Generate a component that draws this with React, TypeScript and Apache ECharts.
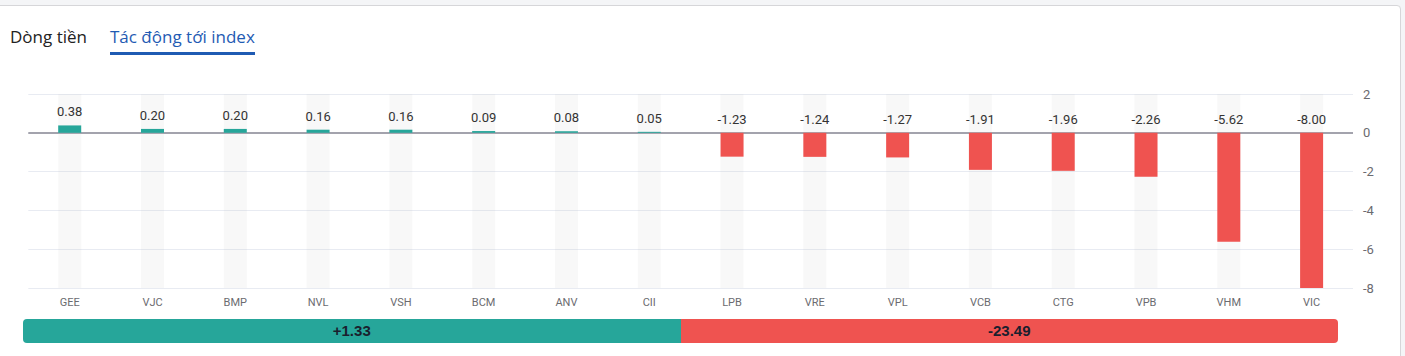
import React, { useEffect, useRef } from "react";
import * as echarts from "echarts";

const categories = ["GEE", "VJC", "BMP", "NVL", "VSH", "BCM", "ANV", "CII", "LPB", "VRE", "VPL", "VCB", "CTG", "VPB", "VHM", "VIC"];
const impactValues = [0.38, 0.2, 0.2, 0.16, 0.16, 0.09, 0.08, 0.05, -1.23, -1.24, -1.27, -1.91, -1.96, -2.26, -5.62, -8.0];
const yTicks = { min: -8, max: 2, interval: 2 };
const tabLabels = ["Dòng tiền", "Tác động tới index"];
const positiveTotal = "+1.33";
const negativeTotal = "-23.49";

const GREEN = "#26a69a";
const RED = "#ef5350";
const FONT = "Roboto, 'Noto Sans', sans-serif";

export default function App() {
  const ref = useRef<HTMLDivElement>(null);

  useEffect(() => {
    if (!ref.current) return;
    const chart = echarts.init(ref.current, undefined, { renderer: "svg" });
    chart.setOption({
      animation: false,
      textStyle: { fontFamily: FONT },
      grid: { left: 28.3, right: 52, top: 94, bottom: 68 },
      xAxis: {
        type: "category",
        data: categories,
        axisLine: { show: false },
        axisTick: { show: false },
        axisLabel: { color: "#6b6b70", fontSize: 11, margin: 9, fontFamily: FONT },
      },
      yAxis: {
        type: "value",
        position: "right",
        min: yTicks.min,
        max: yTicks.max,
        interval: yTicks.interval,
        axisLine: { show: false },
        axisTick: { show: false },
        axisLabel: { color: "#6b6b70", fontSize: 13, margin: 10, fontFamily: FONT },
        splitLine: { lineStyle: { color: "#e8ebf2", width: 1 } },
      },
      series: [
        {
          type: "line",
          data: [],
          z: 1,
          silent: true,
          markLine: {
            z: 1,
            silent: true,
            symbol: "none",
            label: { show: false },
            lineStyle: { color: "#a3a3ad", width: 2, type: "solid" },
            data: [{ yAxis: 0 }],
          },
        },
        {
          type: "bar",
          z: 6,
          barWidth: 23,
          showBackground: true,
          backgroundStyle: { color: "rgba(200,200,200,0.12)" },
          data: impactValues.map((v) => ({
            value: v,
            itemStyle: { color: v >= 0 ? GREEN : RED },
          })),
          label: {
            show: true,
            position: "top",
            distance: 7,
            color: "#333",
            fontSize: 13,
            fontFamily: FONT,
            formatter: (p: any) => Number(p.value).toFixed(2),
          },
        },
      ],
    });
    return () => chart.dispose();
  }, []);

  const posCount = impactValues.filter((v) => v >= 0).length;
  const negCount = impactValues.filter((v) => v < 0).length;

  return (
    <div
      style={{
        position: "fixed",
        left: 0,
        top: 0,
        width: 1405,
        height: 356,
        background: "#f4f5f7",
        overflow: "hidden",
        fontFamily: FONT,
      }}
    >
      <div
        style={{
          position: "absolute",
          left: -4,
          top: 5,
          width: 1405,
          height: 380,
          background: "#fff",
          border: "1px solid #d6d6d9",
          borderRadius: 4,
          boxSizing: "border-box",
        }}
      />
      <div ref={ref} style={{ position: "absolute", left: 0, top: 0, width: 1405, height: 356 }} />
      <div style={{ position: "absolute", left: 10, top: 25, fontSize: 17, color: "#222", lineHeight: "24px", fontFamily: "'Open Sans', sans-serif" }}>
        {tabLabels[0]}
      </div>
      <div style={{ position: "absolute", left: 110, top: 25, fontSize: 17, color: "#1f5bb3", lineHeight: "24px", fontFamily: "'Open Sans', sans-serif" }}>
        {tabLabels[1]}
      </div>
      <div style={{ position: "absolute", left: 110, top: 52, width: 145, height: 3, background: "#1f5bb3" }} />
      <div
        style={{
          position: "absolute",
          left: 23,
          top: 319,
          width: 1315,
          height: 24,
          borderRadius: 4,
          overflow: "hidden",
          display: "flex",
          fontSize: 15,
          fontWeight: 700,
          color: "#1a1f2e",
          lineHeight: "24px",
          fontFamily: "'Liberation Sans', Arial, sans-serif",
        }}
      >
        <div style={{ flex: posCount, background: GREEN, textAlign: "center" }}>{positiveTotal}</div>
        <div style={{ flex: negCount, background: RED, textAlign: "center" }}>{negativeTotal}</div>
      </div>
    </div>
  );
}
